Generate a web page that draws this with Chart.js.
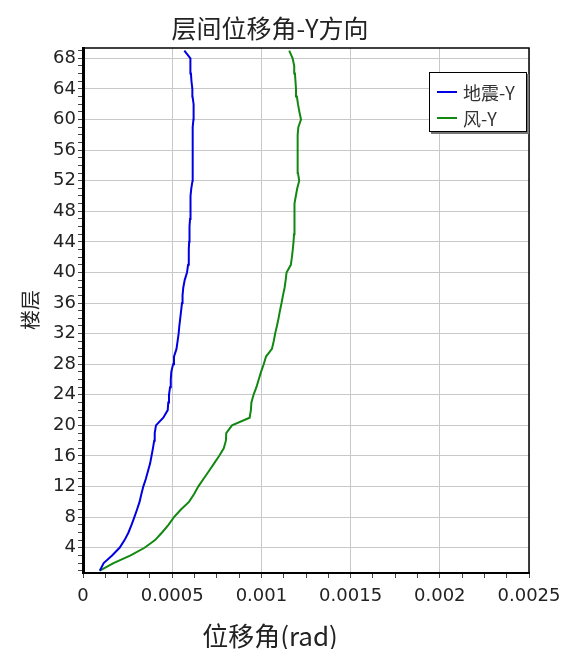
<!DOCTYPE html>
<html>
<head>
<meta charset="utf-8">
<script src="https://cdn.jsdelivr.net/npm/chart.js@4/dist/chart.umd.min.js"></script>
<style>
  body { margin: 0; background: #fff; }
  #wrap { position: relative; width: 562px; height: 649px; font-family: "Noto Sans CJK SC", sans-serif; color: #222; }
  #myChart { position: absolute; left: 0; top: 0; }
  .txt { position: absolute; white-space: nowrap; line-height: 1; }
  #title { left: 270px; top: 15px; font-size: 25px; transform: translateX(-50%); }
  #xtitle { left: 270px; top: 622px; font-size: 26px; transform: translateX(-50%); }
  #ytitle { left: 30px; top: 310px; font-size: 20px; transform: translate(-50%, -50%) rotate(-90deg); }
  #legend { position: absolute; left: 429px; top: 72px; width: 96px; height: 58px; background: #fff;
            border: 1px solid #000; box-shadow: 2px 2px 0 #777; font-size: 18px; color: #333; }
  .item { position: absolute; left: 7px; height: 20px; display: flex; align-items: center; }
  .swatch { width: 20px; height: 2px; margin-right: 6px; }
</style>
</head>
<body>
<div id="wrap">
  <canvas id="myChart" width="562" height="649"></canvas>
  <div class="txt" id="title">层间位移角-Y方向</div>
  <div class="txt" id="xtitle">位移角(rad)</div>
  <div class="txt" id="ytitle">楼层</div>
  <div id="legend">
    <div class="item" style="top:9px"><div class="swatch" style="background:#0000e0"></div>地震-Y</div>
    <div class="item" style="top:35px"><div class="swatch" style="background:#118811"></div>风-Y</div>
  </div>
</div>
<script>
const floors = [1, 2, 3, 4, 5, 6, 7, 8, 9, 10, 11, 12, 13, 14, 15, 16, 17, 18, 19, 20,
    21, 22, 23, 24, 25, 26, 27, 28, 29, 30, 31, 32, 33, 34, 35, 36, 37, 38, 39, 40,
    41, 42, 43, 44, 45, 46, 47, 48, 49, 50, 51, 52, 53, 54, 55, 56, 57, 58, 59, 60,
    61, 62, 63, 64, 65, 66, 67, 68, 69]

// 地震-Y
const quakeY = [0.000094, 0.000116, 0.000163, 0.000205, 0.000233, 0.000255, 0.000272, 0.000288, 0.000303, 0.000317,
    0.000327, 0.000338, 0.000352, 0.000364, 0.000376, 0.000384, 0.000392, 0.000399, 0.000402, 0.000409,
    0.000450, 0.000475, 0.000478, 0.000482, 0.000488, 0.000492, 0.000495, 0.000505, 0.000510, 0.000524,
    0.000530, 0.000536, 0.000540, 0.000545, 0.000550, 0.000555, 0.000558, 0.000562, 0.000570, 0.000583,
    0.000589, 0.000592, 0.000594, 0.000595, 0.000596, 0.000598, 0.000600, 0.000600, 0.000603, 0.000605,
    0.000607, 0.000614, 0.000615, 0.000615, 0.000615, 0.000615, 0.000615, 0.000615, 0.000614, 0.000619,
    0.000620, 0.000620, 0.000614, 0.000613, 0.000608, 0.000605, 0.000604, 0.000600, 0.000568]

// 风-Y
const windY = [0.000094, 0.000171, 0.000267, 0.000345, 0.000404, 0.000443, 0.000479, 0.000510, 0.000549, 0.000594,
    0.000622, 0.000646, 0.000675, 0.000705, 0.000734, 0.000763, 0.000789, 0.000801, 0.000803, 0.000835,
    0.000934, 0.000941, 0.000944, 0.000956, 0.000972, 0.000985, 0.000998, 0.001013, 0.001026, 0.001059,
    0.001069, 0.001077, 0.001087, 0.001096, 0.001104, 0.001113, 0.001121, 0.001130, 0.001136, 0.001141,
    0.001165, 0.001171, 0.001176, 0.001180, 0.001183, 0.001184, 0.001184, 0.001186, 0.001188, 0.001193,
    0.001201, 0.001212, 0.001205, 0.001203, 0.001203, 0.001203, 0.001203, 0.001204, 0.001207, 0.001222,
    0.001213, 0.001205, 0.001199, 0.001194, 0.001191, 0.001188, 0.001184, 0.001175, 0.001156]

const xMajor = 0.0005
const yMajor = 4

function toPoints(values) {
    let pts = []
    for (let i = 0; i < values.length; i++) {
        pts.push({ x: values[i], y: floors[i] })
    }
    return pts
}

function isMajorX(v) {
    return Math.abs(v / xMajor - Math.round(v / xMajor)) < 1e-6
}

// frame round the plot area (top and right sides)
const frame = {
    id: 'frame',
    afterDraw(chart) {
        const a = chart.chartArea
        const ctx = chart.ctx
        ctx.save()
        ctx.strokeStyle = '#000'
        ctx.lineWidth = 1.5
        ctx.beginPath()
        ctx.moveTo(a.left, a.top)
        ctx.lineTo(a.right, a.top)
        ctx.lineTo(a.right, a.bottom)
        ctx.stroke()
        ctx.restore()
    }
}

const tickFont = { family: '"DejaVu Sans", sans-serif', size: 18 }

new Chart(document.getElementById('myChart'), {
    type: 'scatter',
    data: {
        datasets: [{
            label: '地震-Y',
            data: toPoints(quakeY),
            showLine: true,
            borderColor: '#0000e0',
            borderWidth: 2,
            pointRadius: 0
        }, {
            label: '风-Y',
            data: toPoints(windY),
            showLine: true,
            borderColor: '#118811',
            borderWidth: 2,
            pointRadius: 0
        }]
    },
    options: {
        responsive: false,
        animation: false,
        layout: { padding: { left: 0, top: 48, right: 33, bottom: 0 } },
        plugins: {
            legend: { display: false },
            tooltip: { enabled: false }
        },
        scales: {
            x: {
                type: 'linear',
                min: 0,
                max: 0.0025,
                afterFit: (scale) => {
                    scale.height = 76
                    scale.paddingLeft = 0
                    scale.paddingRight = 0
                },
                ticks: {
                    stepSize: 0.000125,
                    autoSkip: false,
                    maxRotation: 0,
                    font: tickFont,
                    color: '#222',
                    padding: 8,
                    callback: (v) => isMajorX(v) ? String(+v.toFixed(4)) : ''
                },
                grid: {
                    color: (ctx) => ctx.tick && isMajorX(ctx.tick.value) ? '#c8c8c8' : 'rgba(0,0,0,0)',
                    tickColor: '#444',
                    tickLength: 5
                },
                border: { color: '#000', width: 2 }
            },
            y: {
                type: 'linear',
                min: 0.7,
                max: 69.35,
                afterFit: (scale) => {
                    scale.width = 83
                    scale.paddingTop = 0
                    scale.paddingBottom = 0
                },
                ticks: {
                    stepSize: 1,
                    includeBounds: false,
                    autoSkip: false,
                    font: tickFont,
                    color: '#222',
                    padding: 2,
                    callback: (v) => v % yMajor === 0 ? v : ''
                },
                grid: {
                    color: (ctx) => ctx.tick && ctx.tick.value % yMajor === 0 ? '#c8c8c8' : 'rgba(0,0,0,0)',
                    tickColor: '#444',
                    tickLength: 5
                },
                border: { color: '#000', width: 3 }
            }
        }
    },
    plugins: [frame]
})
</script>
</body>
</html>
